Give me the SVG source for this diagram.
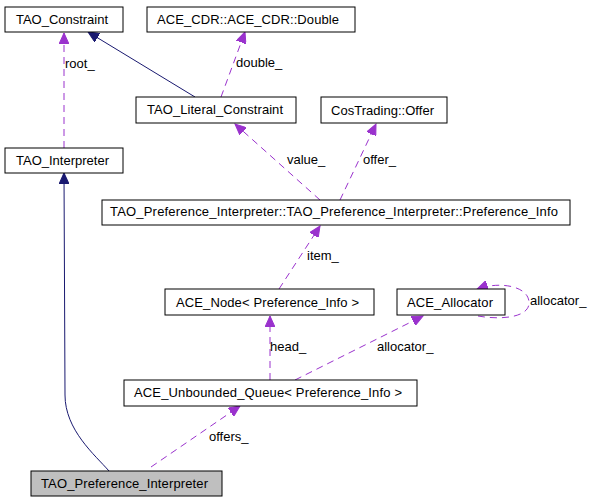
<svg xmlns="http://www.w3.org/2000/svg" width="593" height="501" viewBox="0 0 593 501">
<style>
.box{fill:#ffffff;stroke:#000000;stroke-width:1}
.cur{fill:#bfbfbf;stroke:#000000;stroke-width:1}
text{font-family:"Liberation Sans",Arial,sans-serif;font-size:13px;fill:#000000}
.c{text-anchor:middle}
.use{fill:none;stroke:#9a32cd;stroke-width:1;stroke-dasharray:7,5}
.inh{fill:none;stroke:#191970;stroke-width:1}
</style>
<defs>
<marker id="ap" markerUnits="userSpaceOnUse" markerWidth="12" markerHeight="10" refX="11" refY="5" orient="auto">
<path d="M0,0 L11,5 L0,10 z" fill="#9a32cd" stroke="#9a32cd"/>
</marker>
<marker id="an" markerUnits="userSpaceOnUse" markerWidth="12" markerHeight="10" refX="11" refY="5" orient="auto">
<path d="M0,0 L11,5 L0,10 z" fill="#191970" stroke="#191970"/>
</marker>
</defs>
<g id="connectors">
<path class="use" d="M64,148 L64,33" marker-end="url(#ap)"/>
<path class="inh" d="M195,97 L88,32" marker-end="url(#an)"/>
<path class="use" d="M221,97 L245,32" marker-end="url(#ap)"/>
<path class="use" d="M320,200 L235,124" marker-end="url(#ap)"/>
<path class="use" d="M340,200 L376,124" marker-end="url(#ap)"/>
<path class="use" d="M279,289 L320,226" marker-end="url(#ap)"/>
<path class="use" d="M478,316 C500,320 530,318 529,302 C528,286 500,281 477,289" marker-end="url(#ap)"/>
<path class="use" d="M270,380 L270,316" marker-end="url(#ap)"/>
<path class="use" d="M295,380 L423,316" marker-end="url(#ap)"/>
<path class="use" d="M151,467 L240,406" marker-end="url(#ap)"/>
<path class="inh" d="M109,471 C95,455 65,430 65,395 L64,173" marker-end="url(#an)"/>
<text x="65" y="68">root_</text>
<text x="236" y="67">double_</text>
<text x="287" y="164">value_</text>
<text x="363" y="164">offer_</text>
<text x="307" y="260">item_</text>
<text x="530" y="305">allocator_</text>
<text x="270" y="351">head_</text>
<text x="377" y="351">allocator_</text>
<text x="209" y="441">offers_</text>
</g>
<g id="TAO_Constraint">
<rect class="box" x="5" y="7" width="118" height="25"/>
<text class="c" x="62" y="24" textLength="92">TAO_Constraint</text>
</g>
<g id="ACE_CDR_Double">
<rect class="box" x="147" y="7" width="208" height="25"/>
<text class="c" x="248" y="24" textLength="182">ACE_CDR::ACE_CDR::Double</text>
</g>
<g id="TAO_Literal_Constraint">
<rect class="box" x="136" y="97" width="160" height="26"/>
<text class="c" x="215" y="114" textLength="136">TAO_Literal_Constraint</text>
</g>
<g id="CosTrading_Offer">
<rect class="box" x="321" y="97" width="126" height="26"/>
<text class="c" x="382.5" y="115" textLength="103">CosTrading::Offer</text>
</g>
<g id="TAO_Interpreter">
<rect class="box" x="5" y="148" width="118" height="25"/>
<text class="c" x="62.5" y="165" textLength="93">TAO_Interpreter</text>
</g>
<g id="Preference_Info">
<rect class="box" x="102" y="200" width="468" height="25"/>
<text class="c" x="334" y="216" textLength="448">TAO_Preference_Interpreter::TAO_Preference_Interpreter::Preference_Info</text>
</g>
<g id="ACE_Node">
<rect class="box" x="165" y="289" width="209" height="26"/>
<text class="c" x="267.5" y="307" textLength="183">ACE_Node&lt; Preference_Info &gt;</text>
</g>
<g id="ACE_Allocator">
<rect class="box" x="397" y="289" width="108" height="26"/>
<text class="c" x="450" y="307" textLength="86">ACE_Allocator</text>
</g>
<g id="ACE_Unbounded_Queue">
<rect class="box" x="124" y="380" width="293" height="26"/>
<text class="c" x="268" y="397" textLength="268">ACE_Unbounded_Queue&lt; Preference_Info &gt;</text>
</g>
<g id="TAO_Preference_Interpreter">
<rect class="cur" x="31" y="471" width="191" height="25"/>
<text class="c" x="124.5" y="488" textLength="167">TAO_Preference_Interpreter</text>
</g>
</svg>
